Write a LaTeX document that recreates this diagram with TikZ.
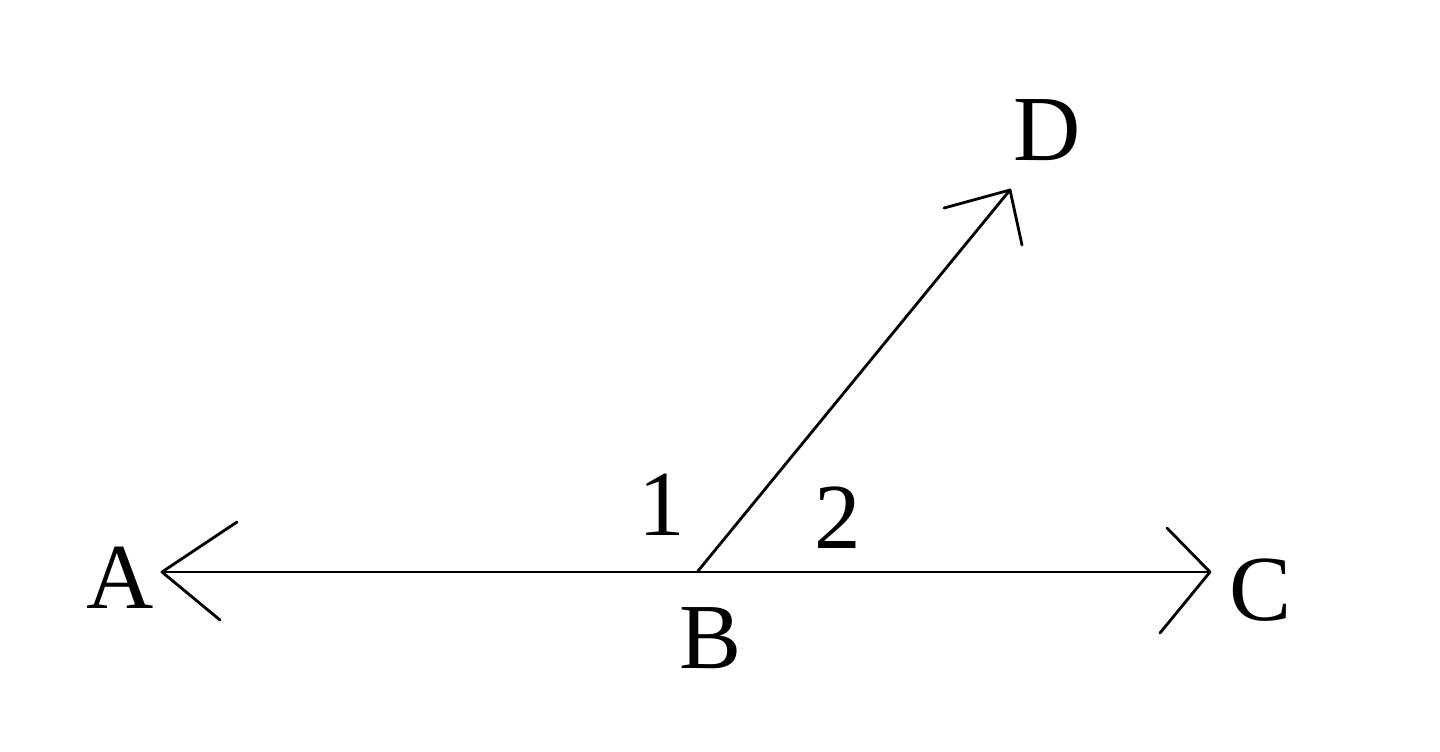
\documentclass[tikz,border=0pt]{standalone}
\usepackage{fontspec}
\setmainfont{Liberation Serif}
\begin{document}
\begin{tikzpicture}[x=0.02cm,y=-0.02cm,
  lbl/.style={inner sep=0pt,font=\fontsize{53}{58}\selectfont},
  ln/.style={line width=1.6pt,line cap=round,line join=round}]
\useasboundingbox (0,0) rectangle (1440,751);
\coordinate (A) at (162,572);
\coordinate (B) at (698,571);
\coordinate (C) at (1210,572);
\coordinate (D) at (1010,190);
\coordinate (a1) at (237,522);
\coordinate (a2) at (220,620);
\coordinate (c1) at (1167,528);
\coordinate (c2) at (1160,633);
\coordinate (d1) at (944,208);
\coordinate (d2) at (1022,245);
\node[lbl] (lA) at (120,578) {A};
\node[lbl] (lB) at (711,638) {B};
\node[lbl] (lC) at (1261,590) {C};
\node[lbl] (lD) at (1047,130) {D};
\node[lbl] (l1) at (662,505) {1};
\node[lbl] (l2) at (838,518) {2};
\draw[ln] (A) -- (C);
\draw[ln] (B) -- (D);
\draw[ln] (a1) -- (A) -- (a2);
\draw[ln] (c1) -- (C) -- (c2);
\draw[ln] (d1) -- (D) -- (d2);
\end{tikzpicture}
\end{document}
